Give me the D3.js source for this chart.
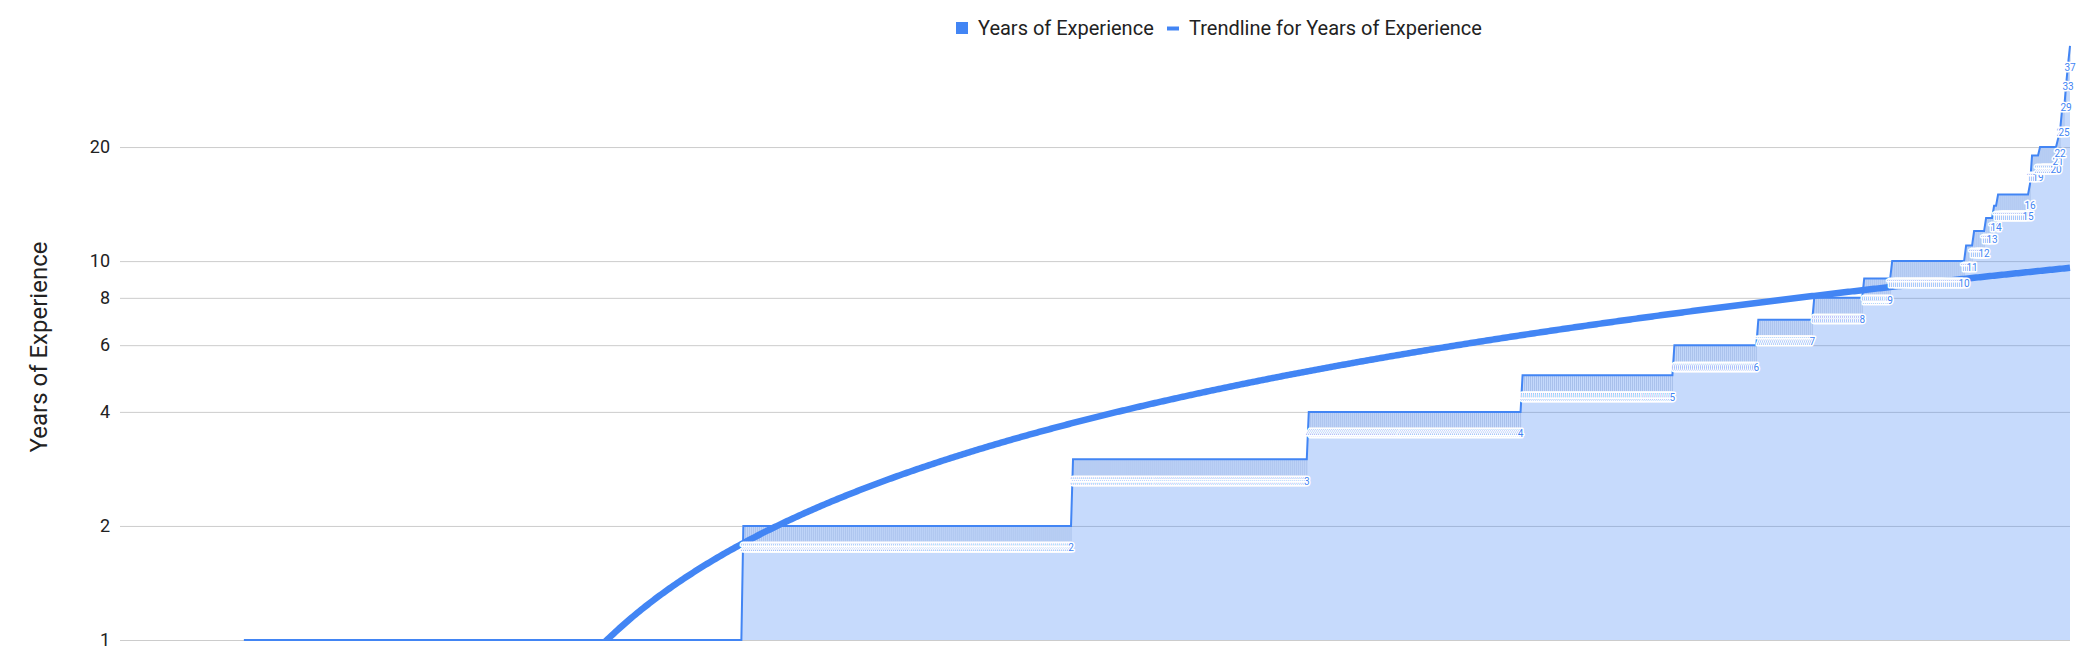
<!DOCTYPE html>
<html><head><meta charset="utf-8">
<script src="https://cdn.jsdelivr.net/npm/d3@7"></script>
<style>
body{margin:0;background:#fff}
svg{display:block;font-family:Roboto,"Noto Sans",sans-serif}
</style>
</head><body><svg id="c" width="2087" height="662"></svg>
<script>
// ---- data ----
const experienceValues = [1,2,3,4,5,6,7,8,9,10,11,12,13,14,15,16,19,20,21,22,25,29,33,37];
const respondentCounts = [250,165,118,107,76,42,28,25,14,37,4,6,4,2,16,1,4,9,1,1,2,1,1,1];
const yTickValues = [1,2,4,6,8,10,20];
const trendCoefficients = [0.011744, -1.134]; // linear trend: slope, intercept (per point index)
const seriesName = "Years of Experience";
const trendName = "Trendline for Years of Experience";
const axisTitle = "Years of Experience";

// sorted series, one value per respondent
const data = [];
experienceValues.forEach((v, k) => { for (let j = 0; j < respondentCounts[k]; j++) data.push(v); });
const N = data.length;

const svg = d3.select("#c");
const plot = {left:120, right:2070, top:33, bottom:640};
const x = d3.scaleLinear().domain([-62, N - 1]).range([plot.left, plot.right]);
const y = d3.scaleLog().domain([1, 40]).range([plot.bottom, plot.top]);
const blue = "#4285f4";

svg.append("defs").append("clipPath").attr("id","pc")
  .append("rect").attr("x", plot.left).attr("y", plot.top - 20)
  .attr("width", plot.right - plot.left + 20).attr("height", plot.bottom - plot.top + 21);

// gridlines + tick labels
const axis = d3.axisLeft(y).tickValues(yTickValues).tickFormat(d3.format("d"))
  .tickSize(-(plot.right - plot.left)).tickPadding(10);
const gA = svg.append("g").attr("transform", `translate(${plot.left},0)`).call(axis);
gA.select(".domain").remove();
gA.selectAll(".tick line").attr("stroke", "#cccccc").attr("stroke-width", 1);
gA.selectAll(".tick text").attr("fill", "#222").style("font-size", "18px")
  .style("font-family", "Roboto, sans-serif");

// axis title
svg.append("text").attr("transform", "translate(47,347) rotate(-90)")
  .attr("text-anchor", "middle").attr("fill", "#222").style("font-size", "24px")
  .text(axisTitle);

const gP = svg.append("g").attr("clip-path", "url(#pc)");

// area
const area = d3.area().x((d, i) => x(i)).y0(y(1)).y1(d => y(d));
gP.append("path").datum(data).attr("d", area).attr("fill", blue).attr("fill-opacity", 0.3);

// annotations (only those that fall inside the plot area)
const labelOffset = 22;
const ann = data.map((v, i) => ({v, i})).filter(a => y(a.v) + labelOffset + 6 <= plot.bottom);

gP.append("g").selectAll("line").data(ann).join("line")
  .attr("x1", a => x(a.i)).attr("x2", a => x(a.i))
  .attr("y1", a => y(a.v) + 1).attr("y2", a => y(a.v) + 18)
  .attr("stroke", "#9fb9e6").attr("stroke-width", 0.8);

// line
const line = d3.line().x((d, i) => x(i)).y(d => y(d));
gP.append("path").datum(data).attr("d", line).attr("fill", "none")
  .attr("stroke", blue).attr("stroke-width", 2);

// trendline
const trendPts = d3.range(0, N).map(i => [i, trendCoefficients[0] * i + trendCoefficients[1]])
  .filter(p => p[1] > 0.85);
gP.append("path").datum(trendPts)
  .attr("d", d3.line().x(p => x(p[0])).y(p => y(p[1])))
  .attr("fill", "none").attr("stroke", blue).attr("stroke-width", 6.5);

// data labels
svg.append("g").selectAll("text").data(ann).join("text")
  .attr("x", a => x(a.i)).attr("y", a => y(a.v) + labelOffset).attr("dy", "0.35em")
  .attr("text-anchor", "middle")
  .style("font-size", "10px").attr("fill", blue)
  .attr("stroke", "#fff").attr("stroke-width", 3).attr("stroke-linejoin", "round")
  .attr("paint-order", "stroke")
  .text(a => a.v);

// legend
const lg = svg.append("g");
lg.append("rect").attr("x", 956).attr("y", 22).attr("width", 12).attr("height", 12).attr("fill", blue);
lg.append("text").attr("x", 978).attr("y", 35).attr("fill", "#222").style("font-size", "20px").text(seriesName);
lg.append("line").attr("x1", 1167).attr("x2", 1179).attr("y1", 28.5).attr("y2", 28.5)
  .attr("stroke", blue).attr("stroke-width", 4);
lg.append("text").attr("x", 1189).attr("y", 35).attr("fill", "#222").style("font-size", "20px").text(trendName);
</script>
</body></html>
